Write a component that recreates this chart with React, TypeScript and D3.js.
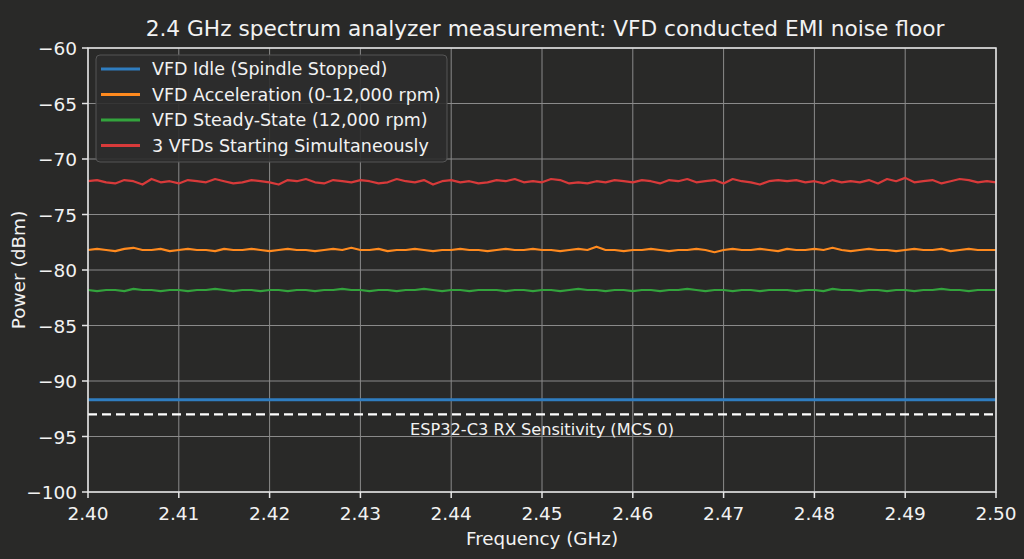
import * as d3 from "d3";

// sweep: 101 bins across 2.40–2.50 GHz
const freqs = d3.range(101).map((i) => 2.4 + i * 0.001);

const idle = [-91.7, -91.7];
const idleFreqs = [2.4, 2.5];

const accel = [
  -78.2, -78.1, -78.2, -78.3, -78.1, -78.0, -78.2, -78.2, -78.1, -78.3,
  -78.2, -78.1, -78.2, -78.2, -78.3, -78.1, -78.2, -78.2, -78.1, -78.2,
  -78.3, -78.2, -78.1, -78.2, -78.2, -78.3, -78.2, -78.1, -78.2, -78.0,
  -78.2, -78.2, -78.1, -78.3, -78.2, -78.2, -78.1, -78.2, -78.3, -78.2,
  -78.2, -78.1, -78.2, -78.2, -78.3, -78.2, -78.1, -78.2, -78.2, -78.1,
  -78.2, -78.2, -78.3, -78.2, -78.1, -78.2, -77.9, -78.2, -78.2, -78.3,
  -78.2, -78.2, -78.1, -78.2, -78.3, -78.2, -78.2, -78.1, -78.2, -78.4,
  -78.2, -78.1, -78.2, -78.2, -78.1, -78.2, -78.3, -78.1, -78.2, -78.2,
  -78.1, -78.2, -78.0, -78.2, -78.3, -78.2, -78.1, -78.2, -78.2, -78.3,
  -78.2, -78.1, -78.2, -78.2, -78.1, -78.3, -78.2, -78.1, -78.2, -78.2,
  -78.2,
];

const steady = [
  -81.8, -81.9, -81.8, -81.8, -81.9, -81.7, -81.8, -81.8, -81.9, -81.8,
  -81.8, -81.9, -81.8, -81.8, -81.7, -81.8, -81.9, -81.8, -81.8, -81.9,
  -81.8, -81.8, -81.9, -81.8, -81.8, -81.9, -81.8, -81.8, -81.7, -81.8,
  -81.8, -81.9, -81.8, -81.8, -81.9, -81.8, -81.8, -81.7, -81.8, -81.9,
  -81.8, -81.8, -81.9, -81.8, -81.8, -81.8, -81.9, -81.8, -81.8, -81.9,
  -81.8, -81.8, -81.9, -81.8, -81.7, -81.8, -81.8, -81.9, -81.8, -81.8,
  -81.9, -81.8, -81.8, -81.9, -81.8, -81.8, -81.7, -81.8, -81.9, -81.8,
  -81.8, -81.9, -81.8, -81.8, -81.9, -81.8, -81.8, -81.8, -81.9, -81.8,
  -81.8, -81.9, -81.7, -81.8, -81.8, -81.9, -81.8, -81.8, -81.9, -81.8,
  -81.8, -81.9, -81.8, -81.8, -81.7, -81.8, -81.8, -81.9, -81.8, -81.8,
  -81.8,
];

const simultaneous = [
  -72.0, -71.9, -72.1, -72.2, -71.9, -72.0, -72.3, -71.8, -72.1, -72.0,
  -72.2, -71.9, -72.0, -72.1, -71.8, -72.0, -72.2, -72.1, -71.9, -72.0,
  -72.1, -72.3, -71.9, -72.0, -71.8, -72.1, -72.2, -71.9, -72.0, -72.1,
  -71.9, -72.0, -72.2, -72.1, -71.8, -72.0, -72.1, -71.9, -72.3, -72.0,
  -71.9, -72.1, -72.0, -72.2, -72.1, -71.9, -72.0, -71.8, -72.1, -72.0,
  -72.1, -71.8, -71.9, -72.2, -72.1, -72.2, -72.0, -72.1, -71.9, -72.0,
  -72.1, -71.9, -72.0, -72.2, -71.9, -72.0, -71.8, -72.1, -72.0, -71.9,
  -72.2, -71.8, -72.0, -72.1, -72.3, -72.0, -71.9, -72.0, -71.9, -72.1,
  -72.0, -72.2, -71.9, -72.1, -72.0, -72.1, -71.9, -72.2, -71.8, -72.0,
  -71.7, -72.1, -72.0, -71.9, -72.2, -72.0, -71.8, -71.9, -72.1, -72.0,
  -72.1,
];

const sensitivity = -93;
const xTicks = [2.4, 2.41, 2.42, 2.43, 2.44, 2.45, 2.46, 2.47, 2.48, 2.49, 2.5];
const yTicks = [-100, -95, -90, -85, -80, -75, -70, -65, -60];

const series = [
  { name: "VFD Idle (Spindle Stopped)", color: "#2f7dc0", x: idleFreqs, y: idle, w: 3 },
  { name: "VFD Acceleration (0-12,000 rpm)", color: "#ff8a1e", x: freqs, y: accel, w: 2.2 },
  { name: "VFD Steady-State (12,000 rpm)", color: "#33a33d", x: freqs, y: steady, w: 2.2 },
  { name: "3 VFDs Starting Simultaneously", color: "#d83a3a", x: freqs, y: simultaneous, w: 2.2 },
];

const W = 1024;
const H = 559;
const m = { top: 48, right: 28, bottom: 67, left: 88 };
const font = "'DejaVu Sans', sans-serif";
const fg = "#f2f2f2";

export default function App() {
  const x = d3.scaleLinear().domain([2.4, 2.5]).range([m.left, W - m.right]);
  const y = d3.scaleLinear().domain([-100, -60]).range([H - m.bottom, m.top]);

  return (
    <svg
      width={W}
      height={H}
      style={{ position: "absolute", left: 0, top: 0, background: "#292928" }}
      fontFamily={font}
    >
      <rect width={W} height={H} fill="#292928" />
      {/* grid */}
      {xTicks.map((t) => (
        <line key={"gx" + t} x1={x(t)} x2={x(t)} y1={m.top} y2={H - m.bottom} stroke="#8a8a8a" strokeWidth={1} />
      ))}
      {yTicks.map((t) => (
        <line key={"gy" + t} x1={m.left} x2={W - m.right} y1={y(t)} y2={y(t)} stroke="#8a8a8a" strokeWidth={1} />
      ))}

      {/* series */}
      {series.map((s) => {
        const path = d3
          .line<number>()
          .x((_, i) => x(s.x[i]))
          .y((d) => y(d))(s.y);
        return <path key={s.name} d={path ?? ""} fill="none" stroke={s.color} strokeWidth={s.w} strokeLinejoin="round" />;
      })}

      {/* sensitivity threshold */}
      <line
        x1={x(2.4)}
        x2={x(2.5)}
        y1={y(sensitivity)}
        y2={y(sensitivity)}
        stroke="#ffffff"
        strokeWidth={2.2}
        strokeDasharray="9 5"
      />
      <text x={x(2.45)} y={y(sensitivity) + 21} textAnchor="middle" fill={fg} fontSize={16.2}>
        ESP32-C3 RX Sensitivity (MCS 0)
      </text>

      {/* spines */}
      <rect
        x={m.left}
        y={m.top}
        width={W - m.left - m.right}
        height={H - m.top - m.bottom}
        fill="none"
        stroke="#e6e6e6"
        strokeWidth={1.5}
      />

      {/* ticks */}
      {xTicks.map((t) => (
        <g key={"tx" + t}>
          <line x1={x(t)} x2={x(t)} y1={H - m.bottom} y2={H - m.bottom + 6} stroke="#e6e6e6" strokeWidth={1.5} />
          <text x={x(t)} y={H - m.bottom + 28} textAnchor="middle" fill={fg} fontSize={18.5}>
            {t.toFixed(2)}
          </text>
        </g>
      ))}
      {yTicks.map((t) => (
        <g key={"ty" + t}>
          <line x1={m.left - 6} x2={m.left} y1={y(t)} y2={y(t)} stroke="#e6e6e6" strokeWidth={1.5} />
          <text x={m.left - 11} y={y(t) + 7} textAnchor="end" fill={fg} fontSize={18.5}>
            {t < 0 ? "\u2212" + Math.abs(t) : t}
          </text>
        </g>
      ))}

      {/* axis labels and title */}
      <text x={(m.left + W - m.right) / 2} y={H - 14} textAnchor="middle" fill={fg} fontSize={18.3}>
        Frequency (GHz)
      </text>
      <text
        transform={`translate(25, ${(m.top + H - m.bottom) / 2}) rotate(-90)`}
        textAnchor="middle"
        fill={fg}
        fontSize={18.5}
      >
        Power (dBm)
      </text>
      <text x={545} y={36} textAnchor="middle" fill={fg} fontSize={21.7}>
        2.4 GHz spectrum analyzer measurement: VFD conducted EMI noise floor
      </text>

      {/* legend */}
      <g transform={`translate(${m.left + 8}, ${m.top + 7})`}>
        <rect width={351} height={107} rx={4} fill="#2c2c2c" fillOpacity={0.9} stroke="#555" strokeWidth={1} />
        {series.map((s, i) => (
          <g key={"lg" + s.name} transform={`translate(0, ${14 + i * 25.5})`}>
            <line x1={5} x2={44} y1={0} y2={0} stroke={s.color} strokeWidth={3} />
            <text x={56} y={6} fill={fg} fontSize={17.5}>
              {s.name}
            </text>
          </g>
        ))}
      </g>
    </svg>
  );
}
